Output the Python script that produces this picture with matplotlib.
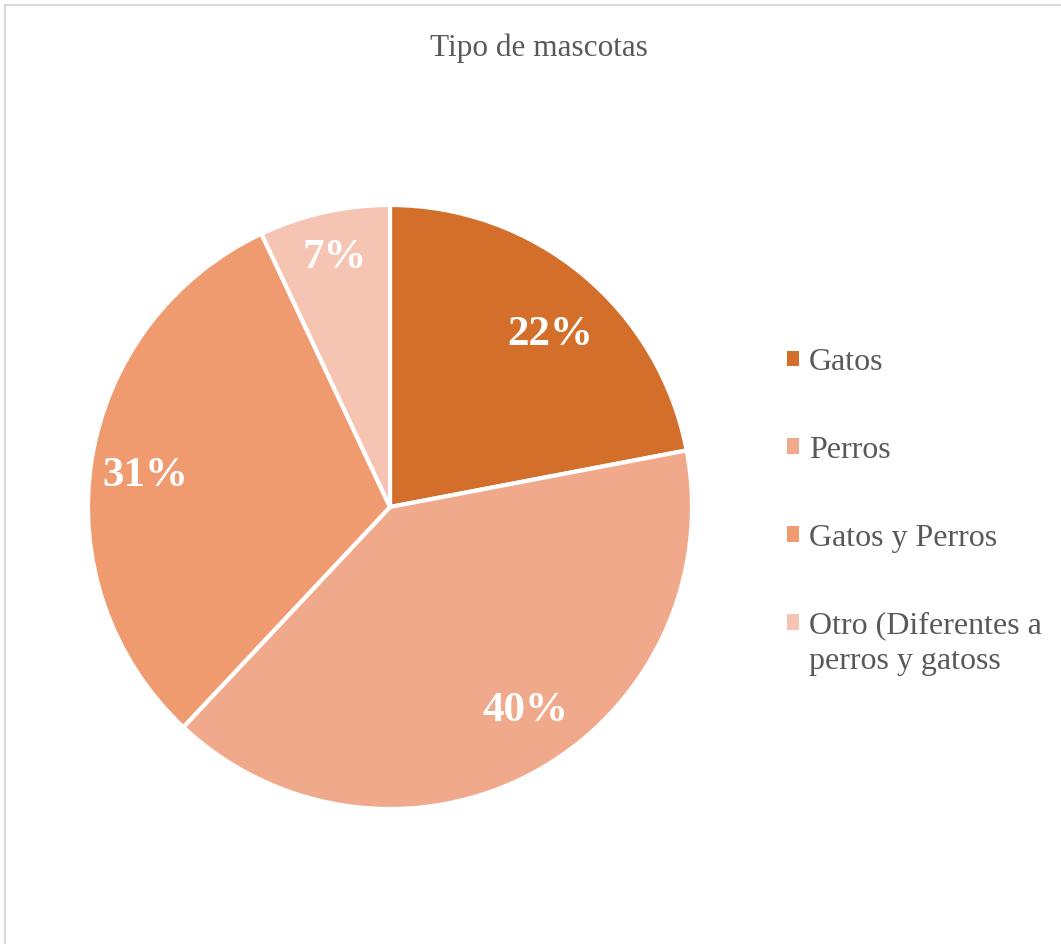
import matplotlib
matplotlib.use("Agg")
import matplotlib.pyplot as plt
from matplotlib.patches import Rectangle, Patch
import numpy as np

title = "Tipo de mascotas"
categories = ["Gatos", "Perros", "Gatos y Perros", "Otro (Diferentes a\nperros y gatoss"]
values = [22, 40, 31, 7]
colors = ["#D36F2B", "#F1A98B", "#EF9A6F", "#F5C4B2"]
# label placement style: radial distance and small angular nudge (degrees)
label_dist = [0.79, 0.80, 0.82, 0.86]
label_nudge = [-2.7, 5.4, 0.8, -0.2]

plt.rcParams['font.family'] = ['Liberation Serif', 'DejaVu Serif']

W, H = 1061, 944
fig = plt.figure(figsize=(W / 100, H / 100), dpi=100)

# border (top and left visible)
fig.patches.append(Rectangle((4.5 / W, -0.1), 1.2, 1 - 4.5 / H + 0.1, transform=fig.transFigure,
                             fill=False, edgecolor="#D9D9D9", linewidth=1.5))

cx, cy, r = 390, 507, 302
ax = fig.add_axes([(cx - r) / W, (H - cy - r) / H, 2 * r / W, 2 * r / H])
wedges, _ = ax.pie(values, colors=colors, startangle=90, counterclock=False,
                   wedgeprops=dict(edgecolor="white", linewidth=3), radius=1)
ax.set_xlim(-1, 1)
ax.set_ylim(-1, 1)
ax.set_aspect("equal")
ax.axis("off")

for w, v, d, n in zip(wedges, values, label_dist, label_nudge):
    ang = np.deg2rad((w.theta1 + w.theta2) / 2 + n)
    ax.text(d * np.cos(ang), d * np.sin(ang), f"{v}%", ha="center", va="center_baseline",
            color="white", fontsize=31, fontweight="bold")

fig.text(539 / W, 1 - 48 / H, title, ha="center", va="center", fontsize=22.5, color="#595959")

# legend: first line of each label in the legend, continuation lines below
first_lines = [c.split("\n")[0] for c in categories]
handles = [Patch(facecolor=c, edgecolor="none") for c in colors]
fs = 23
leg = fig.legend(handles, first_lines, loc="upper left", bbox_to_anchor=(787 / W, 1 - 348 / H),
                 frameon=False, fontsize=fs, handlelength=0.38, handleheight=0.38,
                 handletextpad=0.3, labelspacing=1.84, borderpad=0, borderaxespad=0,
                 labelcolor="#595959")
fig.canvas.draw()
inv = fig.transFigure.inverted()
for t, c in zip(leg.get_texts(), categories):
    rest = c.split("\n")[1:]
    if rest:
        bb = t.get_window_extent()
        x0, y0 = inv.transform((bb.x0, bb.y0 - 7))
        fig.text(x0, y0, "\n".join(rest), ha="left", va="top",
                 fontsize=fs, color="#595959")

fig.savefig("out.png", dpi=100)
